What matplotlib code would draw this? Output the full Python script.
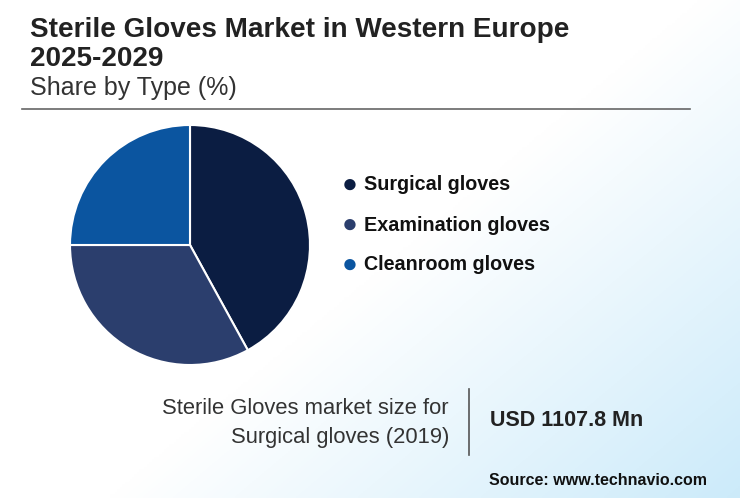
import matplotlib
matplotlib.use("Agg")
import matplotlib.pyplot as plt
import numpy as np
from matplotlib.lines import Line2D

plt.rcParams['font.family'] = ['Liberation Sans', 'DejaVu Sans']

categories = ["Surgical gloves", "Examination gloves", "Cleanroom gloves"]
shares = [42, 33, 25]
colors = ["#0b1d42", "#2b3e6d", "#0b55a0"]

W, H = 740, 498
fig = plt.figure(figsize=(W/100, H/100), dpi=100)

# background gradient (light blue towards bottom-right)
bg = fig.add_axes([0, 0, 1, 1])
yy, xx = np.mgrid[0:1:200j, 0:1:300j]
g = np.clip((xx * 1.0 + yy * 0.8) - 0.95, 0, None)
g = g / g.max()
c0 = np.array([1, 1, 1]); c1 = np.array([0.80, 0.92, 0.98])
img = c0[None, None, :] * (1 - g[..., None]) + c1[None, None, :] * g[..., None]
bg.imshow(img, extent=[0, 1, 0, 1], aspect='auto', origin='upper')
bg.axis('off')

def fx(x): return x / W
def fy(y): return 1 - y / H

fig.text(fx(30), fy(30), "Sterile Gloves Market in Western Europe", fontsize=20.1, fontweight='bold', color='#222222', va='center')
fig.text(fx(30), fy(59), "2025-2029", fontsize=20.1, fontweight='bold', color='#222222', va='center')
fig.text(fx(30), fy(88), "Share by Type (%)", fontsize=18, color='#333333', va='center')
fig.add_artist(Line2D([fx(22), fx(690)], [fy(109), fy(109)], color='#666666', lw=1.2))

r = 120
ax = fig.add_axes([fx(190 - r), fy(245 + r), 2*r/W, 2*r/H])
ax.pie(shares, colors=colors, startangle=90, counterclock=False,
       wedgeprops=dict(edgecolor='white', linewidth=1.5))
ax.set_xlim(-1, 1); ax.set_ylim(-1, 1)
ax.set_aspect('auto')
ax.axis('off')

for i, (cat, col) in enumerate(zip(categories, colors)):
    y = 185 + 40 * i
    fig.text(fx(350), fy(y), "●", fontsize=19, color=col, va='center', ha='center')
    fig.text(fx(364), fy(y), cat, fontsize=14.2, fontweight='bold', color='#111111', va='center')

fig.text(fx(449), fy(408), "Sterile Gloves market size for", fontsize=15.8, color='#333333', ha='right', va='center')
fig.text(fx(449), fy(437), "Surgical gloves (2019)", fontsize=15.8, color='#333333', ha='right', va='center')
fig.add_artist(Line2D([fx(469), fx(469)], [fy(389), fy(455)], color='#555555', lw=1.2))
fig.text(fx(490), fy(420), "USD 1107.8 Mn", fontsize=15.5, fontweight='bold', color='#222222', va='center')
fig.text(fx(707), fy(480), "Source: www.technavio.com", fontsize=11.5, fontweight='bold', color='#111111', ha='right', va='center')

fig.savefig("out.png", dpi=100)
